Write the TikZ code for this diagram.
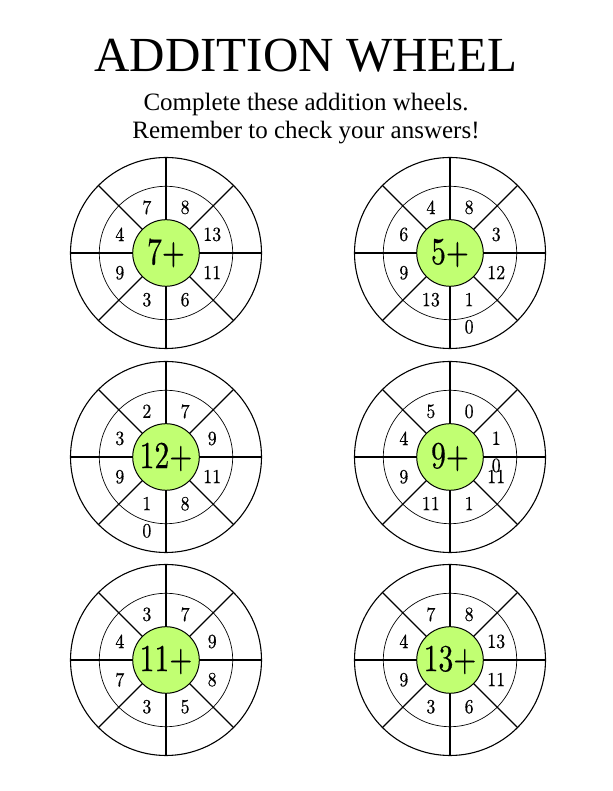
\documentclass[tikz,border=0pt]{standalone}
\usepackage{fontspec}
\setmainfont{Liberation Serif}
\newfontfamily\numfont{lmroman10-regular}[Extension=.otf, FakeStretch=0.9, FakeBold=0.4]
\newfontfamily\ctrfont{lmroman10-regular}[Extension=.otf, FakeStretch=0.78, FakeBold=0.4]
\usetikzlibrary{calc}
\definecolor{wheelgreen}{RGB}{193,255,114}
\tikzset{
  outerring/.style={draw=black, line width=1.1pt},
  innerring/.style={draw=black, line width=0.7pt},
  spoke/.style={draw=black, line width=1.1pt},
  hub/.style={circle, draw=black, line width=1pt, fill=wheelgreen,
    minimum size=66.6pt, inner sep=0pt, font=\ctrfont\fontsize{38}{38}\selectfont},
  numlabel/.style={font=\numfont\fontsize{20}{27}\selectfont, inner sep=0pt,
    anchor=north, align=center},
  titletext/.style={font=\fontsize{49}{49}\selectfont, anchor=base, inner sep=0pt},
  subtext/.style={font=\fontsize{25}{28}\selectfont, anchor=base, inner sep=0pt},
}
% #1 name, #2 centre, #3 hub text, #4 eight numbers clockwise from the top-right sector
\newcommand\addwheel[4]{%
  \coordinate (#1) at #2;
  \draw[outerring] (#1) circle[radius=95.5pt];
  \draw[innerring] (#1) circle[radius=66.7pt];
  \foreach \a in {0,45,...,315}{
    \draw[spoke] ($(#1)+(\a:33.3pt)$) -- ($(#1)+(\a:95.5pt)$);
  }
  \node[hub] (#1-hub) at (#1) {#3};
  \foreach \n [count=\i] in {#4}{
    \node[numlabel] (#1-n\i) at ($(#1)+({112.5-45*\i}:50pt)+(0,6.5pt)$) {\n};
  }
}
\begin{document}
\begin{tikzpicture}[x=1pt,y=1pt]
  \fill[white] (0,0) rectangle (612,791);
  \useasboundingbox (0,0) rectangle (612,791);
  \node[titletext] (title) at (306,719) {ADDITION WHEEL};
  \node[subtext] (sub1) at (306,680) {Complete these addition wheels.};
  \node[subtext] (sub2) at (306,652) {Remember to check your answers!};
  \addwheel{w1}{(166,538)}{7+}{8,13,11,6,3,9,4,7}
  \addwheel{w2}{(450,538)}{5+}{8,3,12,{1\\0},13,9,6,4}
  \addwheel{w3}{(166,334)}{12+}{7,9,11,8,{1\\0},9,3,2}
  \addwheel{w4}{(450,334)}{9+}{0,{1\\0},11,1,11,9,4,5}
  \addwheel{w5}{(166,131)}{11+}{7,9,8,5,3,7,4,3}
  \addwheel{w6}{(450,131)}{13+}{8,13,11,6,3,9,4,7}
\end{tikzpicture}
\end{document}
